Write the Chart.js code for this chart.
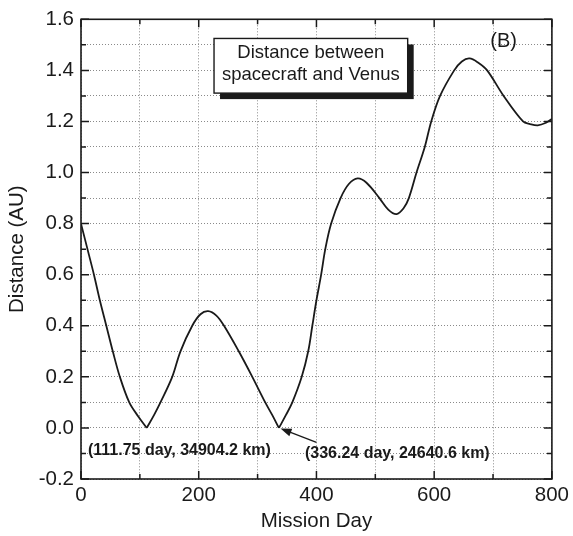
<!DOCTYPE html>
<html>
<head>
<meta charset="utf-8">
<title>Distance between spacecraft and Venus</title>
<script src="https://cdn.jsdelivr.net/npm/chart.js@4.4.1/dist/chart.umd.min.js"></script>
<style>
  html, body { margin: 0; padding: 0; background: #fff; }
  canvas { display: block; }
</style>
</head>
<body>
<canvas id="distChart" width="573" height="536"></canvas>
<script>
// Values (mission day vs distance in AU)
const missionDay = [
  0, 11, 22, 32, 43, 54, 66, 82, 97, 111.75,
  124, 135, 155, 169, 189, 203, 216, 230, 243, 268,
  291, 313, 325, 336.24, 348, 359, 375, 386, 393, 400,
  408, 415, 425, 441, 455, 470, 485, 507, 522, 536,
  548, 557, 570, 584, 595, 610, 634, 647, 660, 675,
  690, 718, 751, 763, 776, 790, 800
];
const distanceAU = [
  0.80, 0.70, 0.60, 0.50, 0.40, 0.30, 0.20, 0.10, 0.046, 0.0,
  0.05, 0.10, 0.20, 0.30, 0.40, 0.445, 0.457, 0.44, 0.40, 0.30,
  0.20, 0.10, 0.05, 0.0, 0.05, 0.10, 0.20, 0.30, 0.40, 0.50,
  0.60, 0.70, 0.80, 0.90, 0.955, 0.977, 0.96, 0.90, 0.855, 0.837,
  0.86, 0.90, 1.00, 1.10, 1.20, 1.30, 1.40, 1.435, 1.447, 1.43,
  1.40, 1.30, 1.20, 1.19, 1.185, 1.195, 1.21
];

const xTickLabels = ['0', '200', '400', '600', '800'];
const yTickLabels = ['-0.2', '0.0', '0.2', '0.4', '0.6', '0.8', '1.0', '1.2', '1.4', '1.6'];

// close approaches (sharp minima of the curve)
const closeApproaches = [
  { day: 111.75, km: 34904.2 },
  { day: 336.24, km: 24640.6 }
];

const FONT = '"Liberation Sans", Arial, Helvetica, sans-serif';
const INK = '#1a1a1a';

// frame, inward tick marks, text box and annotations
const decorations = {
  id: 'decorations',
  afterDraw(chart) {
    const { ctx, chartArea: a, scales: { x, y } } = chart;
    ctx.save();

    // inward ticks on all four sides
    ctx.strokeStyle = INK;
    ctx.lineWidth = 1.5;
    ctx.beginPath();
    x.ticks.forEach(t => {
      const px = x.getPixelForValue(t.value);
      const len = t.label ? 8 : 5;
      ctx.moveTo(px, a.bottom); ctx.lineTo(px, a.bottom - len);
      ctx.moveTo(px, a.top); ctx.lineTo(px, a.top + len);
    });
    y.ticks.forEach(t => {
      const py = y.getPixelForValue(t.value);
      const len = t.label ? 8 : 5;
      ctx.moveTo(a.left, py); ctx.lineTo(a.left + len, py);
      ctx.moveTo(a.right, py); ctx.lineTo(a.right - len, py);
    });
    ctx.stroke();

    // plot frame
    ctx.lineWidth = 1.6;
    ctx.strokeRect(a.left, a.top, a.right - a.left, a.bottom - a.top);

    // text box with drop shadow
    const bx0 = x.getPixelForValue(226), bx1 = x.getPixelForValue(555);
    const by0 = y.getPixelForValue(1.525), by1 = y.getPixelForValue(1.311);
    ctx.fillStyle = INK;
    ctx.fillRect(bx0 + 6, by0 + 6, bx1 - bx0, by1 - by0);
    ctx.fillStyle = '#fff';
    ctx.fillRect(bx0, by0, bx1 - bx0, by1 - by0);
    ctx.lineWidth = 1.4;
    ctx.strokeRect(bx0, by0, bx1 - bx0, by1 - by0);
    ctx.fillStyle = INK;
    ctx.font = '18.5px ' + FONT;
    ctx.textAlign = 'center';
    ctx.textBaseline = 'middle';
    const cx = (bx0 + bx1) / 2;
    ctx.fillText('Distance between', cx, by0 + 14);
    ctx.fillText('spacecraft and Venus', cx, by0 + 36);

    // panel letter
    ctx.font = '20px ' + FONT;
    ctx.fillText('(B)', x.getPixelForValue(718), y.getPixelForValue(1.512));

    // close approach labels
    ctx.font = 'bold 16px ' + FONT;
    ctx.textAlign = 'left';
    const fmt = p => '(' + p.day + ' day, ' + p.km.toFixed(1) + ' km)';
    ctx.fillText(fmt(closeApproaches[0]), x.getPixelForValue(11.8), y.getPixelForValue(-0.089));
    ctx.fillText(fmt(closeApproaches[1]), x.getPixelForValue(380.5), y.getPixelForValue(-0.1));

    // arrow to second minimum
    const sx = x.getPixelForValue(400), sy = y.getPixelForValue(-0.057);
    const tx = x.getPixelForValue(339), ty = y.getPixelForValue(-0.002);
    const ang = Math.atan2(ty - sy, tx - sx);
    ctx.lineWidth = 1.3;
    ctx.beginPath();
    ctx.moveTo(sx, sy);
    ctx.lineTo(tx - 8 * Math.cos(ang), ty - 8 * Math.sin(ang));
    ctx.stroke();
    ctx.beginPath();
    ctx.moveTo(tx, ty);
    ctx.lineTo(tx - 11 * Math.cos(ang) + 4 * Math.sin(ang), ty - 11 * Math.sin(ang) - 4 * Math.cos(ang));
    ctx.lineTo(tx - 11 * Math.cos(ang) - 4 * Math.sin(ang), ty - 11 * Math.sin(ang) + 4 * Math.cos(ang));
    ctx.closePath();
    ctx.fill();

    ctx.restore();
  }
};

// split the curve at the two close approaches so the minima stay sharp
const cuspDays = closeApproaches.map(p => p.day);
const segments = [[]];
missionDay.forEach((d, i) => {
  const pt = { x: d, y: distanceAU[i] };
  segments[segments.length - 1].push(pt);
  if (cuspDays.includes(d)) segments.push([pt]);
});

new Chart(document.getElementById('distChart'), {
  type: 'line',
  data: {
    datasets: segments.map(seg => ({
      label: 'Distance',
      data: seg,
      borderColor: INK,
      borderWidth: 1.8,
      pointRadius: 0,
      fill: false,
      tension: 0.35
    }))
  },
  options: {
    responsive: false,
    animation: false,
    layout: { padding: { top: 14, right: 19, left: 0, bottom: 0 } },
    plugins: { legend: { display: false }, tooltip: { enabled: false } },
    scales: {
      x: {
        type: 'linear',
        min: 0,
        max: 800,
        afterFit: s => { s.height = 57; },
        border: { display: false, dash: [1, 2] },
        grid: { color: '#8a8a8a', lineWidth: 1, drawTicks: false },
        ticks: {
          stepSize: 100,
          autoSkip: false,
          maxRotation: 0,
          padding: 4,
          color: INK,
          font: { family: FONT, size: 20.5 },
          callback: v => xTickLabels.includes(String(v)) ? String(v) : ''
        },
        title: {
          display: true,
          text: 'Mission Day',
          color: INK,
          font: { family: FONT, size: 20.5, lineHeight: 1 },
          padding: { top: 0, bottom: 4.5 }
        }
      },
      y: {
        min: -0.2,
        max: 1.6,
        afterFit: s => { s.width = 81; },
        border: { display: false, dash: [1, 2] },
        grid: { color: '#8a8a8a', lineWidth: 1, drawTicks: false },
        ticks: {
          stepSize: 0.1,
          autoSkip: false,
          padding: 7,
          color: INK,
          font: { family: FONT, size: 20.5 },
          callback: v => {
            const s = (Math.round(v * 10) / 10).toFixed(1);
            return yTickLabels.includes(s) ? s : '';
          }
        },
        title: {
          display: true,
          text: 'Distance (AU)',
          color: INK,
          font: { family: FONT, size: 20.5, lineHeight: 1 },
          padding: { top: 7.5, bottom: 0 }
        }
      }
    }
  },
  plugins: [decorations]
});
</script>
</body>
</html>
